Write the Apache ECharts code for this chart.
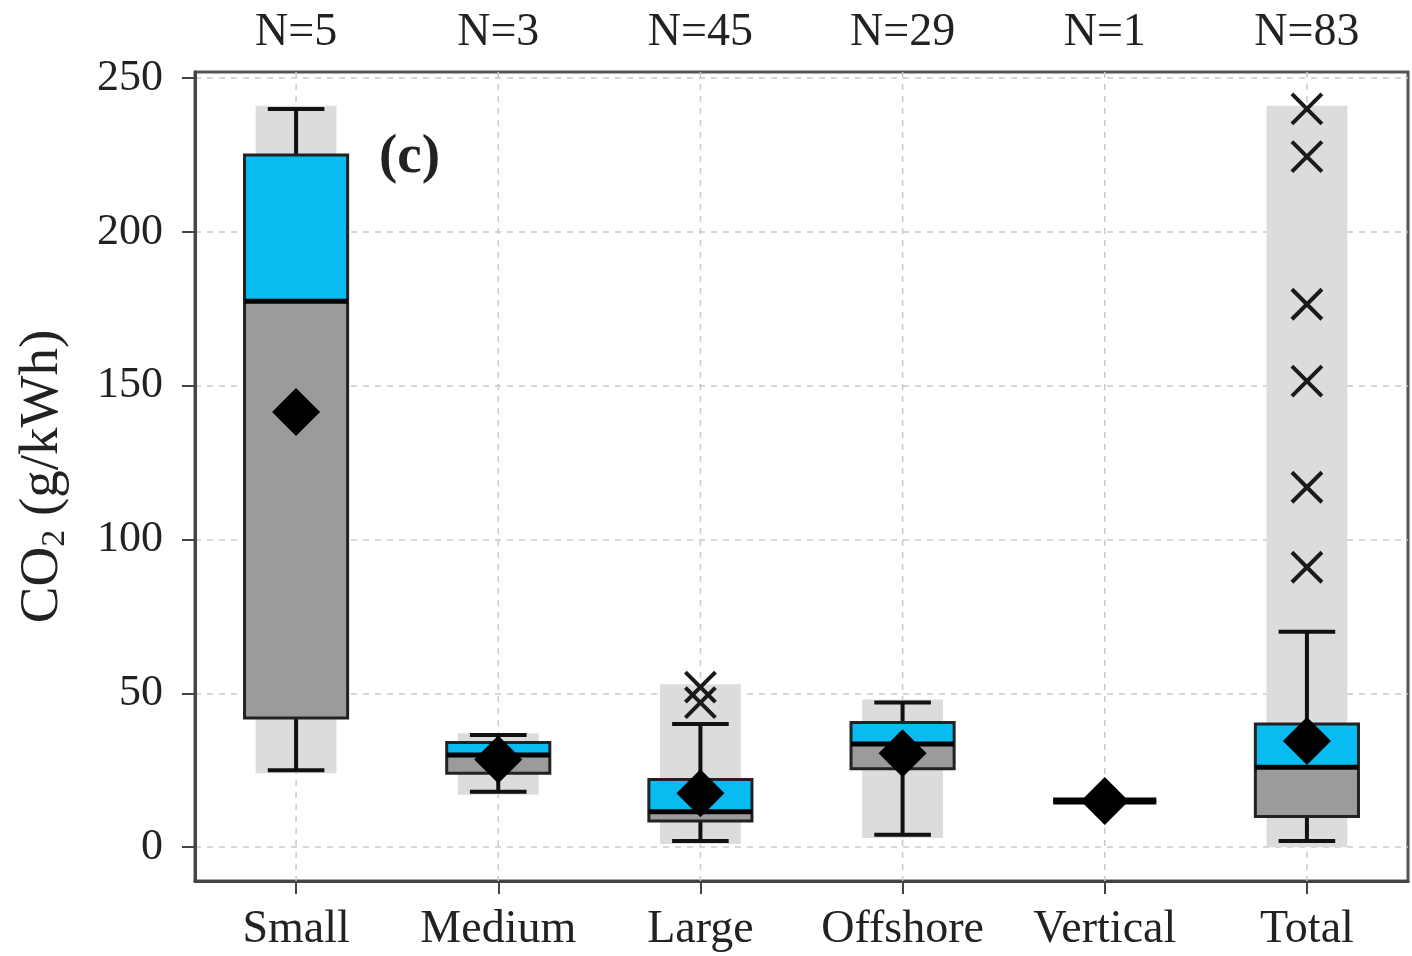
<!DOCTYPE html>
<html>
<head>
<meta charset="utf-8">
<script src="https://cdn.jsdelivr.net/npm/echarts@6/dist/echarts.min.js"></script>
<style>
html,body{margin:0;padding:0;background:#fff;}
#chart{width:1412px;height:956px;}
</style>
</head>
<body>
<div id="chart"></div>
<script>
const categories = ['Small', 'Medium', 'Large', 'Offshore', 'Vertical', 'Total'];
const nLabels = ['N=5', 'N=3', 'N=45', 'N=29', 'N=1', 'N=83'];
const yTicks = [0, 50, 100, 150, 200, 250];
// light-gray full range band
const rangeLow  = [24, 17, 1, 3, null, 0];
const rangeHigh = [241, 37, 53, 48, null, 241];
// box plot statistics
const whiskerLow  = [25, 18, 2, 4, 15, 2];
const q1          = [42, 24, 8.5, 25.5, 15, 10];
const median      = [177.5, 30, 11.5, 33.5, 15, 26];
const q3          = [225, 34, 22, 40.5, 15, 40];
const whiskerHigh = [240, 36.5, 40, 47, 15, 70];
const means       = [141.5, 28.5, 17.5, 30.5, 15, 34.5];
// outliers
const outlierCategory = ['Large', 'Large', 'Total', 'Total', 'Total', 'Total', 'Total', 'Total'];
const outlierValues   = [52, 47, 240, 224.5, 176.5, 151.5, 117, 91];

const FONT = '"Liberation Serif", "DejaVu Serif", serif';
const TXT = '#222';

const boxData = categories.map((c, i) => [i, rangeLow[i], rangeHigh[i], whiskerLow[i], q1[i], median[i], q3[i], whiskerHigh[i]]);
const meanData = categories.map((c, i) => [i, means[i]]);
const outlierData = outlierValues.map((v, k) => [categories.indexOf(outlierCategory[k]), v]);

function renderBox(params, api) {
  const i = api.value(0);
  const cx = api.coord([i, 0])[0];
  const bw = api.size([1, 0])[0];
  const cs = params.coordSys;
  const y = v => api.coord([i, v])[1];
  const ch = [];
  ch.push({type: 'line', silent: true,
    shape: {x1: cx, y1: cs.y, x2: cx, y2: cs.y + cs.height},
    style: {stroke: '#c9c9c9', lineWidth: 1.5, lineDash: [6, 6]}});
  const rl = api.value(1), rh = api.value(2);
  if (isFinite(rl) && isFinite(rh)) {
    const hw = bw * 0.2;
    ch.push({type: 'rect', shape: {x: cx - hw, y: y(rh), width: hw * 2, height: y(rl) - y(rh)},
      style: {fill: '#dcdcdc'}});
  }
  const wl = api.value(3), b1 = api.value(4), md = api.value(5), b3 = api.value(6), wh = api.value(7);
  const capW = bw * 0.14;
  const boxW = bw * 0.255;
  const lineStyle = {stroke: '#111', lineWidth: 4};
  ch.push({type: 'line', shape: {x1: cx, y1: y(wl), x2: cx, y2: y(wh)}, style: lineStyle});
  ch.push({type: 'line', shape: {x1: cx - capW, y1: y(wl), x2: cx + capW, y2: y(wl)}, style: lineStyle});
  ch.push({type: 'line', shape: {x1: cx - capW, y1: y(wh), x2: cx + capW, y2: y(wh)}, style: lineStyle});
  ch.push({type: 'rect', shape: {x: cx - boxW, y: y(md), width: boxW * 2, height: y(b1) - y(md)},
    style: {fill: '#9b9b9b'}});
  ch.push({type: 'rect', shape: {x: cx - boxW, y: y(b3), width: boxW * 2, height: y(md) - y(b3)},
    style: {fill: '#08bcf2'}});
  ch.push({type: 'rect', shape: {x: cx - boxW, y: y(b3), width: boxW * 2, height: y(b1) - y(b3)},
    style: {fill: 'none', stroke: '#222', lineWidth: 3}});
  ch.push({type: 'line', shape: {x1: cx - boxW, y1: y(md), x2: cx + boxW, y2: y(md)},
    style: {stroke: '#000', lineWidth: (b3 === b1 ? 7 : 5)}});
  return {type: 'group', children: ch};
}

function renderX(params, api) {
  const p = api.coord([api.value(0), api.value(1)]);
  const h = 15;
  const st = {stroke: '#1a1a1a', lineWidth: 4};
  return {type: 'group', children: [
    {type: 'line', shape: {x1: p[0] - h, y1: p[1] - h, x2: p[0] + h, y2: p[1] + h}, style: st},
    {type: 'line', shape: {x1: p[0] - h, y1: p[1] + h, x2: p[0] + h, y2: p[1] - h}, style: st}
  ]};
}

const chart = echarts.init(document.getElementById('chart'), null, {renderer: 'canvas'});
chart.setOption({
  animation: false,
  backgroundColor: '#fff',
  textStyle: {fontFamily: FONT},
  grid: {left: 195, right: 4, top: 72, bottom: 75, show: true, borderColor: '#555', borderWidth: 3, backgroundColor: '#fff'},
  graphic: [{type: 'text', left: 379, top: 130, z: 100,
    style: {text: '(c)', font: 'bold 55px ' + FONT, fill: '#222'}}],
  xAxis: [{
    type: 'category', data: categories, position: 'bottom',
    axisLine: {show: true, onZero: false, lineStyle: {color: '#444', width: 3}},
    axisTick: {show: true, alignWithLabel: true, length: 13, lineStyle: {color: '#444', width: 2}},
    axisLabel: {fontSize: 46, color: TXT, margin: 26, fontFamily: FONT, interval: 0},
    splitLine: {show: false}
  }, {
    type: 'category', data: nLabels, position: 'top',
    axisLine: {show: false, onZero: false}, axisTick: {show: false},
    axisLabel: {fontSize: 46, color: TXT, margin: 16, fontFamily: FONT, interval: 0},
    splitLine: {show: false}
  }],
  yAxis: {
    type: 'value', min: -11, max: 252, splitNumber: 5,
    name: '{a|CO}{s|2}{a| (g/kWh)}', nameLocation: 'middle', nameGap: 123,
    nameTextStyle: {rich: {
      a: {fontSize: 55, color: TXT, fontFamily: FONT},
      s: {fontSize: 34, color: TXT, fontFamily: FONT, padding: [24, 0, 0, 0]}
    }},
    axisLine: {show: true, lineStyle: {color: '#444', width: 3}},
    axisTick: {show: true, length: 13, customValues: yTicks, lineStyle: {color: '#444', width: 2}},
    axisLabel: {fontSize: 44, color: TXT, margin: 32, fontFamily: FONT, customValues: yTicks},
    splitLine: {show: true, lineStyle: {color: '#c9c9c9', width: 1.5, type: [6, 6]}}
  },
  series: [{
    type: 'custom', name: 'box', renderItem: renderBox, data: boxData,
    encode: {x: 0, y: [3, 4, 5, 6, 7]}, z: 2, silent: true
  }, {
    type: 'scatter', name: 'mean', data: meanData, symbol: 'diamond', symbolSize: [48, 48],
    itemStyle: {color: '#000', opacity: 1}, z: 5, silent: true
  }, {
    type: 'custom', name: 'outliers', renderItem: renderX, data: outlierData,
    encode: {x: 0, y: 1}, z: 6, silent: true
  }]
});
</script>
</body>
</html>
